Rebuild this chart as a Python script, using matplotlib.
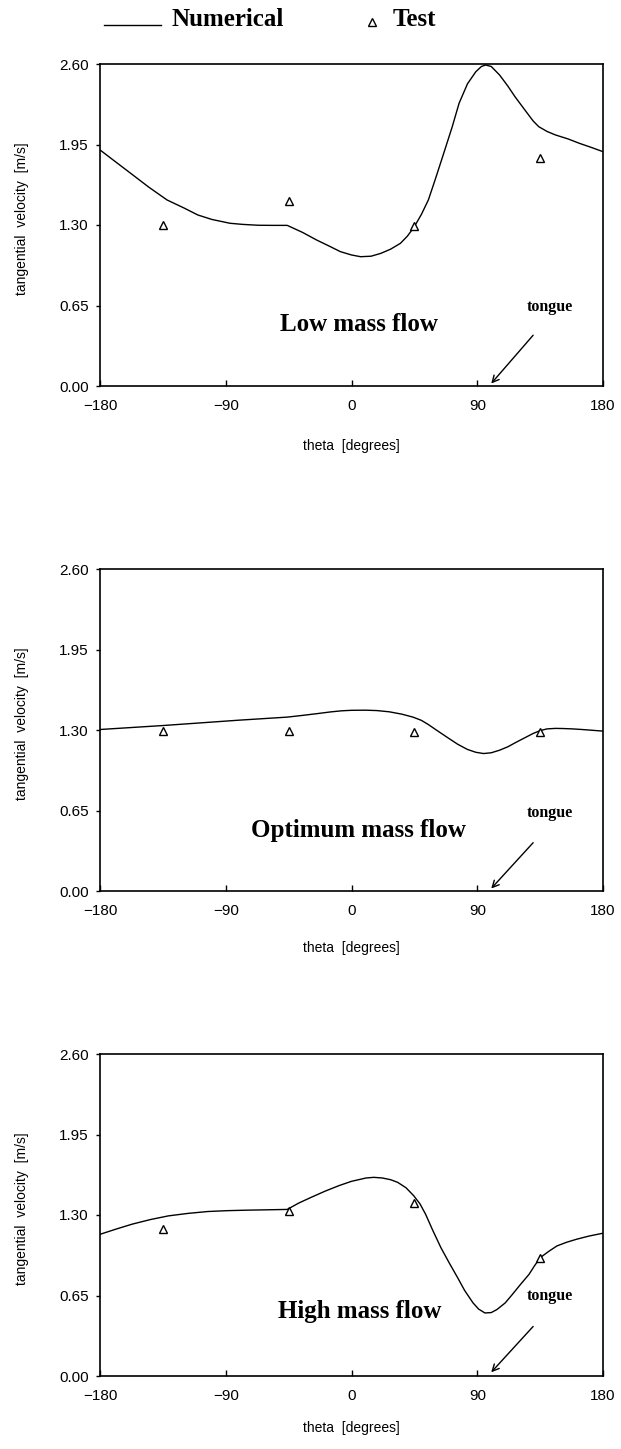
import matplotlib
matplotlib.use("Agg")
import matplotlib.pyplot as plt
from matplotlib.lines import Line2D

# ---------------- data ----------------
xticks = [-180, -90, 0, 90, 180]
yticks = [0.00, 0.65, 1.30, 1.95, 2.60]
ytick_labels = ["0.00", "0.65", "1.30", "1.95", "2.60"]
xtick_labels = ["\u2212180", "\u221290", "0", "90", "180"]

test_theta = [-135, -45, 45, 135]

low_theta = [-180, -170, -158, -145, -132, -120, -110, -100, -87, -78, -67, -57, -46, -35,
             -25, -16, -8, 0, 6.5, 14, 21, 28, 35, 40, 45, 50, 55, 60, 66, 72, 77, 83, 89,
             93, 96, 100, 106, 112, 117, 124, 130, 134, 140, 146, 155, 163, 172, 180]
low_vel = [1.906, 1.820, 1.717, 1.605, 1.502, 1.438, 1.381, 1.345, 1.314, 1.305, 1.298,
           1.297, 1.297, 1.240, 1.179, 1.130, 1.085, 1.058, 1.044, 1.048, 1.071, 1.105,
           1.152, 1.210, 1.287, 1.385, 1.502, 1.670, 1.879, 2.090, 2.283, 2.440, 2.538,
           2.580, 2.592, 2.580, 2.511, 2.420, 2.336, 2.230, 2.140, 2.094, 2.055, 2.027,
           1.995, 1.960, 1.925, 1.892]
low_test = [1.297, 1.494, 1.292, 1.841]

opt_theta = [-180, -135, -81, -46, -35, -24, -15, -7, 0, 10, 18, 27, 36, 44, 50, 55, 62, 69,
             76, 83, 89, 94.5, 100, 106, 112, 117, 124, 130, 135, 140, 146, 151, 158, 165,
             172, 180]
opt_vel = [1.304, 1.336, 1.379, 1.404, 1.418, 1.433, 1.446, 1.455, 1.459, 1.460, 1.457,
           1.447, 1.428, 1.404, 1.378, 1.344, 1.290, 1.237, 1.185, 1.143, 1.120, 1.110,
           1.116, 1.137, 1.165, 1.196, 1.237, 1.272, 1.295, 1.309, 1.313, 1.312, 1.309,
           1.304, 1.298, 1.291]
opt_test = [1.292, 1.290, 1.285, 1.283]

high_theta = [-180, -168, -157, -144, -131, -117, -103, -89, -75, -60, -46, -38, -29, -19,
              -9, 0, 10.5, 16, 22, 28, 33, 39, 44.5, 49, 53, 58, 64, 70, 76, 81, 87, 91,
              95.5, 100, 104, 110, 115, 121, 127, 131, 135, 141, 147, 154, 161, 170, 180]
high_vel = [1.144, 1.188, 1.226, 1.263, 1.293, 1.313, 1.328, 1.335, 1.339, 1.342, 1.345,
            1.395, 1.442, 1.492, 1.537, 1.572, 1.599, 1.604, 1.599, 1.585, 1.564, 1.520,
            1.456, 1.390, 1.307, 1.180, 1.036, 0.912, 0.793, 0.690, 0.590, 0.540, 0.509,
            0.512, 0.536, 0.590, 0.657, 0.740, 0.820, 0.890, 0.955, 1.005, 1.050, 1.080,
            1.104, 1.130, 1.153]
high_test = [1.190, 1.334, 1.393, 0.950]

panels = [
    ("Low mass flow", low_theta, low_vel, low_test),
    ("Optimum mass flow", opt_theta, opt_vel, opt_test),
    ("High mass flow", high_theta, high_vel, high_test),
]

# ---------------- layout ----------------
W, H = 621, 1449
fig = plt.figure(figsize=(W / 100, H / 100), dpi=100)
fig.patch.set_facecolor("white")

sans = "Liberation Sans"
serif = "Liberation Serif"

ax_left, ax_right = 100, 603
ax_tops = [64, 569, 1054]
ax_h = 322
xlabel_off = [60, 57, 52]
label_pos = [(5, 0.50, 0.64, (130, 0.41), (100, 0.02)),
             (5, 0.49, 0.63, (130, 0.39), (100, 0.02)),
             (6, 0.52, 0.65, (130, 0.40), (100, 0.03))]

for i, (title, th, vel, test) in enumerate(panels):
    top = ax_tops[i]
    ax = fig.add_axes([ax_left / W, 1 - (top + ax_h) / H,
                       (ax_right - ax_left) / W, ax_h / H])
    ax.plot(th, vel, color="black", lw=1.0, solid_joinstyle="round")
    ax.plot(test_theta, test, linestyle="none", marker="^", markersize=6,
            markerfacecolor="white", markeredgecolor="black", markeredgewidth=1.0)
    ax.set_xlim(-180, 180)
    ax.set_ylim(0, 2.6)
    ax.set_xticks(xticks)
    ax.set_xticklabels(xtick_labels, fontfamily=sans, fontsize=11)
    ax.set_yticks(yticks)
    ax.set_yticklabels(ytick_labels, fontfamily=sans, fontsize=11)
    ax.tick_params(axis="x", direction="in", length=4, width=1, pad=9)
    ax.tick_params(axis="y", direction="out", length=3, width=1, pad=5)
    for s in ax.spines.values():
        s.set_linewidth(1.2)

    ax.text(0.5, -xlabel_off[i] / ax_h, "theta  [degrees]", transform=ax.transAxes,
            ha="center", va="center", fontfamily=sans, fontsize=10)
    ax.text((22 - ax_left) / (ax_right - ax_left), 0.52, "tangential  velocity  [m/s]",
            transform=ax.transAxes, rotation=90, ha="center", va="center",
            fontfamily=sans, fontsize=10)

    tx, ty, tgy, a0, a1 = label_pos[i]
    ax.text(tx, ty, title, ha="center", va="center", fontfamily=serif,
            fontweight="bold", fontsize=18)
    ax.text(142, tgy, "tongue", ha="center", va="center", fontfamily=serif,
            fontweight="bold", fontsize=11.5)
    ax.annotate("", xy=a1, xytext=a0,
                arrowprops=dict(arrowstyle="->", color="black", lw=1.0,
                                mutation_scale=12, shrinkA=0, shrinkB=0))

# ---------------- legend ----------------
ly = 1 - 25 / H
fig.add_artist(Line2D([104 / W, 161 / W], [ly, ly], color="black", lw=1.0,
                      transform=fig.transFigure))
fig.text(171 / W, 1 - 20 / H, "Numerical", ha="left", va="center", fontfamily=serif,
         fontweight="bold", fontsize=18)
fig.add_artist(Line2D([372 / W], [1 - 22 / H], linestyle="none", marker="^",
                      markersize=6, markerfacecolor="white", markeredgecolor="black",
                      markeredgewidth=1.0, transform=fig.transFigure))
fig.text(393 / W, 1 - 20 / H, "Test", ha="left", va="center", fontfamily=serif,
         fontweight="bold", fontsize=18)

fig.savefig("out.png", dpi=100, facecolor="white")
